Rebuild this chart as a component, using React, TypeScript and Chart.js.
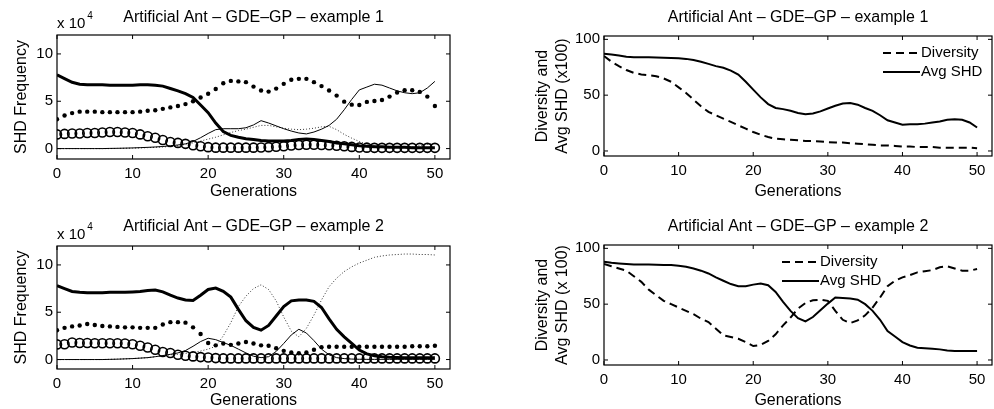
import React, { useEffect, useRef } from "react";
import { Chart, registerables } from "chart.js";
Chart.register(...registerables);

const FONT = "Arial, 'Liberation Sans', Helvetica, sans-serif";

const generations = [0,1,2,3,4,5,6,7,8,9,10,11,12,13,14,15,16,17,18,19,20,21,22,23,24,25,26,27,28,29,30,31,32,33,34,35,36,37,38,39,40,41,42,43,44,45,46,47,48,49,50];

// Example 1 – SHD frequency (x 10^4)
const ex1Thick = [7.8,7.4,7.0,6.8,6.75,6.75,6.75,6.7,6.7,6.7, 6.7,6.75,6.75,6.7,6.6,6.35,6.1,5.8,5.4,4.6, 3.8,2.7,1.8,1.4,1.2,1.05,0.95,0.85,0.8,0.8, 0.8,0.85,0.95,1.0,0.95,0.85,0.75,0.6,0.5,0.4, 0.3,0.25,0.2,0.2,0.15,0.15,0.15,0.1,0.1,0.1,0.1];
const ex1Dots = [3.1,3.5,3.75,3.9,3.9,3.9,3.85,3.85,3.85,3.85, 3.85,3.9,4.0,4.05,4.2,4.35,4.5,4.7,5.0,5.4, 5.8,6.3,6.9,7.15,7.1,7.02,6.55,6.13,6.02,6.34, 6.84,7.27,7.37,7.37,7.02,6.6,6.13,5.6,4.96,4.64, 4.6,4.93,5.03,5.14,5.49,5.92,6.17,6.17,5.99,5.49,4.5];
const ex1Circles = [1.5,1.55,1.6,1.6,1.65,1.65,1.7,1.75,1.75,1.7, 1.65,1.5,1.3,1.15,0.9,0.7,0.6,0.5,0.35,0.25, 0.15,0.1,0.1,0.1,0.1,0.1,0.1,0.12,0.15,0.2, 0.25,0.32,0.38,0.4,0.4,0.38,0.35,0.3,0.25,0.18, 0.12,0.1,0.08,0.08,0.08,0.08,0.08,0.08,0.08,0.08,0.08];
const ex1Thin = [0,0,0,0,0,0,0,0.02,0.03,0.05, 0.07,0.1,0.13,0.17,0.22,0.3,0.38,0.5,0.75,1.15, 1.6,2.0,2.1,2.1,2.1,2.2,2.5,2.95,2.7,2.4, 2.1,1.85,1.65,1.55,1.75,2.05,2.45,3.1,4.1,5.2, 6.2,6.5,6.8,6.7,6.4,6.1,5.9,5.8,5.9,6.4,7.1];
const ex1Dotted = [0,0,0,0,0,0,0,0,0.02,0.03, 0.05,0.07,0.1,0.13,0.17,0.22,0.3,0.45,0.6,0.8, 1.0,1.2,1.45,1.7,1.9,2.05,2.25,2.45,2.45,2.3, 2.15,2.05,2.0,2.05,2.15,2.3,2.35,2.0,1.5,1.1, 0.75,0.45,0.3,0.2,0.15,0.12,0.12,0.2,0.3,0.45,0.55];

// Example 2 – SHD frequency (x 10^4)
const ex2Thick = [7.8,7.5,7.2,7.1,7.05,7.05,7.05,7.1,7.1,7.1, 7.15,7.2,7.3,7.35,7.15,6.8,6.5,6.3,6.25,6.8, 7.4,7.55,7.2,6.6,5.3,4.1,3.4,3.1,3.6,4.6, 5.6,6.2,6.3,6.3,6.15,5.5,4.3,3.2,2.4,1.7, 1.0,0.6,0.4,0.3,0.25,0.22,0.2,0.2,0.2,0.2,0.2];
const ex2Dots = [3.1,3.35,3.5,3.6,3.75,3.65,3.55,3.5,3.45,3.4, 3.4,3.35,3.35,3.35,3.7,3.95,3.95,3.9,3.4,2.7, 1.75,1.5,1.7,1.55,1.7,1.85,1.7,1.5,1.45,1.2, 0.92,0.74,0.67,0.74,1.03,1.31,1.35,1.35,1.35,1.35, 1.35,1.35,1.35,1.35,1.35,1.35,1.35,1.4,1.4,1.4,1.45];
const ex2Circles = [1.6,1.62,1.8,1.75,1.75,1.72,1.72,1.72,1.72,1.7, 1.62,1.45,1.27,1.03,0.79,0.69,0.51,0.4,0.33,0.26, 0.22,0.15,0.12,0.12,0.12,0.12,0.12,0.12,0.12,0.12, 0.12,0.12,0.12,0.12,0.12,0.12,0.12,0.12,0.12,0.12, 0.12,0.12,0.12,0.12,0.12,0.12,0.12,0.12,0.12,0.12,0.12];
const ex2Thin = [0,0,0,0,0,0,0,0.02,0.04,0.07, 0.1,0.15,0.2,0.3,0.42,0.55,0.7,0.95,1.4,1.9, 2.25,2.1,1.8,1.5,1.1,0.7,0.35,0.2,0.3,0.85, 1.7,2.6,3.2,2.8,2.0,1.1,0.5,0.2,0.1,0.05, 0.03,0.02,0.02,0.02,0.02,0.02,0.02,0.02,0.02,0.02,0.02];
const ex2Dotted = [0,0,0,0,0,0,0,0.02,0.04,0.07, 0.1,0.15,0.2,0.3,0.4,0.5,0.55,0.65,0.75,0.9, 1.1,1.4,2.5,3.9,5.6,6.7,7.5,7.9,7.4,6.2, 4.5,3.0,2.4,3.3,4.7,6.3,7.7,8.6,9.3,9.8, 10.2,10.5,10.8,10.95,11.05,11.1,11.15,11.15,11.1,11.1,11.05];

// Diversity and Avg SHD (x100)
const ex1AvgShd = [87,86.5,85.5,84.5,84,84,84,83.8,83.6,83.4, 83,82.5,81.5,80,78,76,74.5,72,68.5,62, 55,48,42,38.5,37.5,36,34,33,33.5,35.5, 38,40.5,42.5,43,41.5,38.5,36,32,27.5,25.5, 23.5,24,24,24.5,25.5,26.5,28,28.5,28,25.5,21];
const ex1Diversity = [85,80,76,72.5,70,68.5,68,67,65,62, 57,52,46,40,35,32,29,26,23,20, 17,14.5,12.5,11,10.5,10,9.5,9,9,8.5, 8,7.5,7.5,7,6.5,6,5.5,5,5,4.5, 4,4,3.5,3.5,3.5,3,3,3,3,3,2.5];
const ex2AvgShd = [88,87,86.5,86,85.5,85.5,85.5,85.2,85,85, 84.5,83.5,82,80,77.5,74,71,68,66,66, 67.5,68.5,67,61,52,44,37.5,34.5,38.5,44.5, 50.5,56,55.5,55,54,50,44,36,26,21, 16,13,11,10.5,10,9.5,8.5,8,8,8,8];
const ex2Diversity = [86,84,82,80,75,70,63,58,53,50, 47,44,41,37,34,28,22,20.5,19,16, 12.5,13.5,17,23,31,38,46,51,53.5,54, 53,44,36,33,35.5,40,47,56,66,71, 74,76,78.5,79.5,80.5,83,84,82,80,80,81.5];

const xTicksStep = 10;
const titles = ["Artificial Ant \u2013 GDE\u2013GP \u2013 example 1", "Artificial Ant \u2013 GDE\u2013GP \u2013 example 2"];
const legendLabels = ["Diversity", "Avg SHD"];

type Kind = "thick" | "dots" | "circles" | "thin" | "dotted" | "solid2" | "dashed2";
type Series = { label: string; data: number[]; kind: Kind };

function toPoints(values: number[]) {
  return values.map((v, i) => ({ x: generations[i], y: v }));
}

function makeDataset(s: Series): any {
  const base: any = { label: s.label, data: toPoints(s.data), tension: 0, pointRadius: 0, borderColor: "#000", backgroundColor: "#000" };
  switch (s.kind) {
    case "thick": return { ...base, borderWidth: 3 };
    case "thin": return { ...base, borderWidth: 1 };
    case "dotted": return { ...base, borderWidth: 1, borderDash: [1, 2], borderColor: "#333" };
    case "dots": return { ...base, showLine: false, pointRadius: 2.2, pointBackgroundColor: "#000", pointBorderWidth: 0 };
    case "circles": return { ...base, showLine: false, pointRadius: 4.5, pointBorderWidth: 1.6, pointBorderColor: "#000", pointBackgroundColor: "rgba(0,0,0,0)" };
    case "solid2": return { ...base, borderWidth: 2 };
    case "dashed2": return { ...base, borderWidth: 2, borderDash: [8, 5] };
  }
}

type Props = {
  left: number; top: number; width: number; height: number;
  padTop: number; padRight: number; yWidth: number; xHeight: number;
  yMin: number; yMax: number; yStep: number;
  yTitle: string | string[]; yTitlePad: number;
  title: string; titleOffset: number;
  exponent?: boolean;
  legend?: { dx: number; dy: number };
  series: Series[];
};

function Panel(p: Props) {
  const ref = useRef<HTMLCanvasElement>(null);
  useEffect(() => {
    const canvas = ref.current!;
    const decor = {
      id: "decor",
      afterDraw(chart: any) {
        const { ctx, chartArea: a, scales } = chart;
        ctx.save();
        ctx.strokeStyle = "#000";
        ctx.lineWidth = 1.2;
        ctx.setLineDash([]);
        ctx.strokeRect(a.left, a.top, a.right - a.left, a.bottom - a.top);
        const tl = 4;
        ctx.lineWidth = 1;
        ctx.beginPath();
        for (const t of scales.x.ticks) {
          const px = scales.x.getPixelForValue(t.value);
          ctx.moveTo(px, a.bottom); ctx.lineTo(px, a.bottom - tl);
          ctx.moveTo(px, a.top); ctx.lineTo(px, a.top + tl);
        }
        for (const t of scales.y.ticks) {
          const py = scales.y.getPixelForValue(t.value);
          ctx.moveTo(a.left, py); ctx.lineTo(a.left + tl, py);
          ctx.moveTo(a.right, py); ctx.lineTo(a.right - tl, py);
        }
        ctx.stroke();
        ctx.fillStyle = "#000";
        ctx.font = `16px ${FONT}`;
        ctx.textAlign = "center";
        ctx.textBaseline = "middle";
        ctx.fillText(p.title, (a.left + a.right) / 2, a.top - p.titleOffset);
        if (p.exponent) {
          ctx.textAlign = "left";
          ctx.textBaseline = "alphabetic";
          ctx.font = `15px ${FONT}`;
          const s = "x 10";
          ctx.fillText(s, a.left, a.top - 7);
          const w = ctx.measureText(s).width;
          ctx.font = `10px ${FONT}`;
          ctx.fillText("4", a.left + w + 2, a.top - 16);
        }
        if (p.legend) {
          const x0 = a.right - p.legend.dx;
          const lineLen = 37;
          ctx.font = `15px ${FONT}`;
          ctx.textAlign = "left";
          ctx.textBaseline = "middle";
          const rows = [{ label: legendLabels[0], dash: [8, 5] }, { label: legendLabels[1], dash: [] as number[] }];
          rows.forEach((r, i) => {
            const y = a.top + p.legend!.dy + i * 19;
            ctx.lineWidth = 2;
            ctx.setLineDash(r.dash);
            ctx.beginPath();
            ctx.moveTo(x0, y); ctx.lineTo(x0 + lineLen, y);
            ctx.stroke();
            ctx.setLineDash([]);
            ctx.fillText(r.label, x0 + lineLen + 1, y);
          });
        }
        ctx.restore();
      },
    };
    const chart = new Chart(canvas, {
      type: "line",
      data: { datasets: p.series.map(makeDataset) },
      options: {
        animation: false,
        responsive: false,
        maintainAspectRatio: false,
        events: [],
        layout: { padding: { top: p.padTop, right: p.padRight, left: 0, bottom: 0 } },
        plugins: { legend: { display: false }, tooltip: { enabled: false }, title: { display: false } },
        scales: {
          x: {
            type: "linear", min: 0, max: 52,
            grid: { display: false, drawTicks: false },
            border: { display: false },
            ticks: { stepSize: xTicksStep, includeBounds: false, autoSkip: false, maxRotation: 0, padding: 6, color: "#000", font: { family: FONT, size: 15 } },
            title: { display: true, text: "Generations", color: "#000", font: { family: FONT, size: 16 }, padding: { top: 0, bottom: -1 } },
            afterFit: (s: any) => { s.height = p.xHeight; },
          },
          y: {
            type: "linear", min: p.yMin, max: p.yMax,
            grid: { display: false, drawTicks: false },
            border: { display: false },
            ticks: { stepSize: p.yStep, includeBounds: false, autoSkip: false, padding: 4, color: "#000", font: { family: FONT, size: 15 } },
            title: { display: true, text: p.yTitle as any, color: "#000", font: { family: FONT, size: 16 }, padding: { top: p.yTitlePad, bottom: 0 } },
            afterFit: (s: any) => { s.width = p.yWidth; },
          },
        },
      },
      plugins: [decor],
    } as any);
    return () => chart.destroy();
  }, []);
  return (
    <div style={{ position: "absolute", left: p.left, top: p.top, width: p.width, height: p.height }}>
      <canvas ref={ref} width={p.width} height={p.height} style={{ display: "block" }} />
    </div>
  );
}

export default function App() {
  const freq1: Series[] = [
    { label: "thick", data: ex1Thick, kind: "thick" },
    { label: "dots", data: ex1Dots, kind: "dots" },
    { label: "circles", data: ex1Circles, kind: "circles" },
    { label: "thin", data: ex1Thin, kind: "thin" },
    { label: "dotted", data: ex1Dotted, kind: "dotted" },
  ];
  const freq2: Series[] = [
    { label: "thick", data: ex2Thick, kind: "thick" },
    { label: "dots", data: ex2Dots, kind: "dots" },
    { label: "circles", data: ex2Circles, kind: "circles" },
    { label: "thin", data: ex2Thin, kind: "thin" },
    { label: "dotted", data: ex2Dotted, kind: "dotted" },
  ];
  const div1: Series[] = [
    { label: legendLabels[0], data: ex1Diversity, kind: "dashed2" },
    { label: legendLabels[1], data: ex1AvgShd, kind: "solid2" },
  ];
  const div2: Series[] = [
    { label: legendLabels[0], data: ex2Diversity, kind: "dashed2" },
    { label: legendLabels[1], data: ex2AvgShd, kind: "solid2" },
  ];
  return (
    <div style={{ position: "absolute", left: 0, top: 0, width: 994, height: 409, background: "#fff" }}>
      <Panel left={0} top={0} width={470} height={200} padTop={35} padRight={20} yWidth={57} xHeight={41}
        yMin={-1.1} yMax={12} yStep={5} yTitle="SHD Frequency" yTitlePad={12.4}
        title={titles[0]} titleOffset={17} exponent series={freq1} />
      <Panel left={0} top={200} width={470} height={209} padTop={46} padRight={20} yWidth={57} xHeight={40}
        yMin={-1.0} yMax={12} yStep={5} yTitle="SHD Frequency" yTitlePad={12.4}
        title={titles[1]} titleOffset={19} exponent series={freq2} />
      <Panel left={520} top={0} width={474} height={200} padTop={36} padRight={2} yWidth={84} xHeight={44}
        yMin={-4.5} yMax={103} yStep={50} yTitle={["Diversity and", "Avg SHD (x100)"]} yTitlePad={13.4}
        title={titles[0]} titleOffset={18} legend={{ dx: 109, dy: 17 }} series={div1} />
      <Panel left={520} top={200} width={474} height={209} padTop={45} padRight={2} yWidth={84} xHeight={44}
        yMin={-4.5} yMax={103} yStep={50} yTitle={["Diversity and", "Avg SHD (x 100)"]} yTitlePad={13.4}
        title={titles[1]} titleOffset={18} legend={{ dx: 210, dy: 17 }} series={div2} />
    </div>
  );
}
